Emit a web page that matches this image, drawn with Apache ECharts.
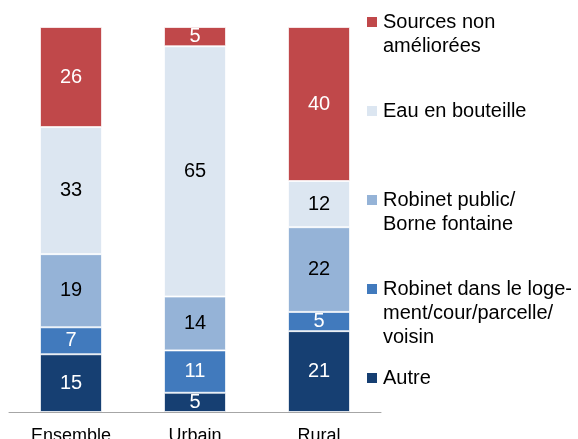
<!DOCTYPE html>
<html>
<head>
<meta charset="utf-8">
<script src="https://cdn.jsdelivr.net/npm/echarts@6/dist/echarts.min.js"></script>
<style>
  html, body { margin: 0; padding: 0; background: #fff; }
  #chart { width: 578px; height: 439px; }
</style>
</head>
<body>
<div id="chart"></div>
<script>
// categories (x axis)
var categories = ['Ensemble', 'Urbain', 'Rural'];

// series, bottom to top
var seriesNames = [
  'Autre',
  'Robinet dans le loge-\nment/cour/parcelle/\nvoisin',
  'Robinet public/\nBorne fontaine',
  'Eau en bouteille',
  'Sources non\naméliorées'
];
var autre = [15, 5, 21];
var robinetLogement = [7, 11, 5];
var robinetPublic = [19, 14, 22];
var bouteille = [33, 65, 12];
var nonAmeliorees = [26, 5, 40];

var values = [autre, robinetLogement, robinetPublic, bouteille, nonAmeliorees];
var colors = ['#163f72', '#417abd', '#95b3d7', '#dce6f1', '#c0484a'];
var labelColors = ['#fff', '#fff', '#000', '#000', '#fff'];

// legend rows (centre of the first line), top to bottom
var legendTops = [22, 111, 200, 289, 378];

var myChart = echarts.init(document.getElementById('chart'));

var series = seriesNames.map(function (name, i) {
  return {
    name: name,
    type: 'bar',
    stack: 'total',
    barWidth: '50%',
    data: values[i],
    itemStyle: { color: colors[i], borderColor: 'rgba(255,255,255,0.7)', borderWidth: 1 },
    label: {
      show: true,
      position: 'inside',
      color: labelColors[i],
      fontSize: 20,
      fontFamily: 'Liberation Sans, Arial, sans-serif'
    }
  };
});

// legend drawn by hand so the square lines up with the first text line
var graphic = [];
for (var k = 0; k < 5; k++) {
  var idx = 4 - k;
  graphic.push({
    type: 'rect',
    left: 367,
    top: legendTops[k] - 5,
    shape: { width: 10, height: 10 },
    style: { fill: colors[idx] }
  });
  graphic.push({
    type: 'text',
    left: 383,
    top: legendTops[k] - 12,
    style: {
      text: seriesNames[idx],
      fill: '#000',
      font: '20px "Liberation Sans", Arial, sans-serif',
      lineHeight: 24
    }
  });
}

var option = {
  animation: false,
  grid: { left: 9, right: 197, top: 27, bottom: 27, outerBoundsMode: 'none' },
  xAxis: {
    type: 'category',
    data: categories,
    axisLine: { lineStyle: { color: '#a6a6a6', width: 1 } },
    axisTick: { show: false },
    axisLabel: {
      color: '#000',
      fontSize: 18,
      margin: 15,
      fontFamily: 'Liberation Sans, Arial, sans-serif'
    }
  },
  yAxis: {
    type: 'value',
    min: 0,
    max: 100,
    show: false,
    splitLine: { show: false }
  },
  graphic: graphic,
  series: series
};

myChart.setOption(option);
</script>
</body>
</html>
